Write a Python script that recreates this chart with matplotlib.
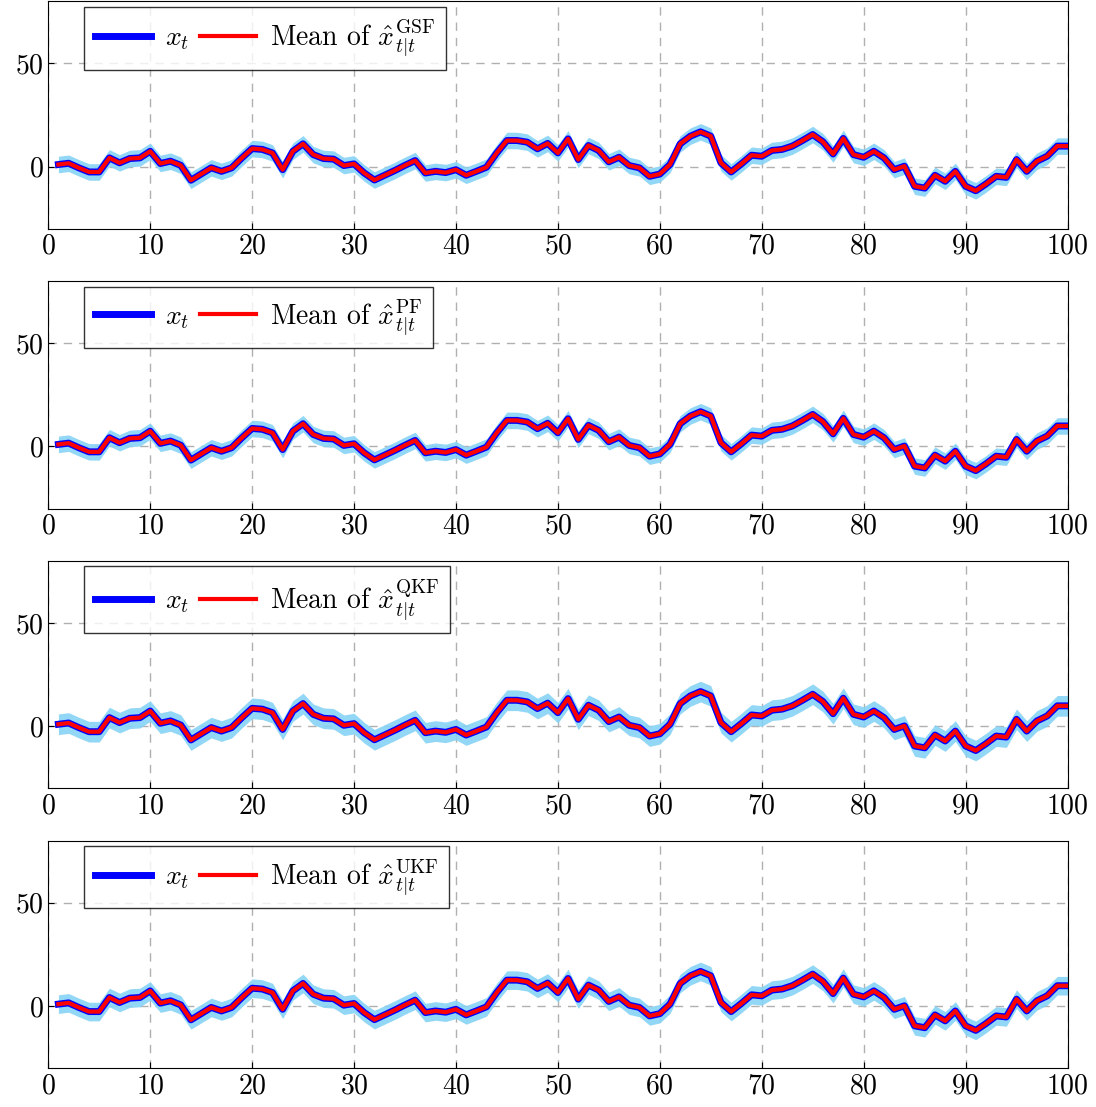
import numpy as np
import matplotlib
matplotlib.use("Agg")
import matplotlib.pyplot as plt

plt.rcParams.update({
    "font.family": "serif",
    "font.serif": ["cmr10"],
    "mathtext.fontset": "cm",
    "axes.formatter.use_mathtext": True,
    "font.size": 20,
})

t = np.arange(1, 101)
x_true = [1, 1.6, -0.6, -2.6, -2.6, 4.2, 1.8, 3.9, 4.2, 7.4,
          1.5, 2.6, 0.6, -6.6, -3.6, -0.6, -2.3, -0.6, 4.2, 8.7,
          8.3, 6.6, -1.5, 7.4, 11, 5.8, 3.9, 3.6, 0.5, 1.3,
          -3.1, -6.5, -4.2, -1.9, 0.6, 2.9, -3.1, -2.3, -2.9, -1.5,
          -4.2, -2.3, -0.3, 6.6, 12.6, 12.6, 11.8, 8.6, 11.2, 6.6,
          13.4, 3.4, 10.2, 7.8, 2.3, 4.5, 0.5, -0.6, -4.7, -3.6,
          1, 11, 14.7, 16.8, 14.7, 1.8, -2.6, 1.3, 5.5, 5,
          7.8, 8.3, 9.9, 12.6, 15.5, 12, 6.1, 13.6, 5.8, 4.5,
          7.4, 4.2, -1.5, 0.2, -9.5, -10.4, -4.2, -7.1, -2.3, -9.5,
          -11.7, -8.4, -4.7, -5.2, 3.4, -2.3, 2.6, 5, 9.9, 9.9]
x_mean = x_true
filters = ["GSF", "PF", "QKF", "UKF"]
band_halfwidth = [4, 4, 5, 4.5]

fig, axes = plt.subplots(4, 1, figsize=(10.96, 11.07), dpi=100)
fig.subplots_adjust(left=0.044, right=0.974, top=0.999, bottom=0.035, hspace=0.23)

for ax, name, hw in zip(axes, filters, band_halfwidth):
    m = np.array(x_mean)
    ax.fill_between(t, m - hw, m + hw, color="#87d3f5", alpha=0.9, lw=0, zorder=2)
    ax.plot(t, x_true, color="blue", lw=5, zorder=3, label=r"$x_t$")
    ax.plot(t, x_mean, color="red", lw=3, zorder=4,
            label=r"Mean of $\hat{x}_{t|t}^{\mathrm{%s}}$" % name)
    ax.set_xlim(0, 100)
    ax.set_ylim(-30, 80)
    ax.set_xticks(range(0, 101, 10))
    ax.set_yticks([0, 50])
    ax.grid(True, color="#b0b0b0", ls=(0, (6, 5)), lw=1)
    ax.set_axisbelow(True)
    ax.tick_params(direction="in", length=4, labelsize=20)
    leg = ax.legend(loc="upper left", ncol=2, frameon=True, fancybox=False,
                    edgecolor="black", fontsize=20, handlelength=2.0,
                    columnspacing=0.4, handletextpad=0.5, borderaxespad=0.2,
                    bbox_to_anchor=(0.03, 1.0))
    leg.get_frame().set_linewidth(1)

fig.savefig("out.png", dpi=100)
